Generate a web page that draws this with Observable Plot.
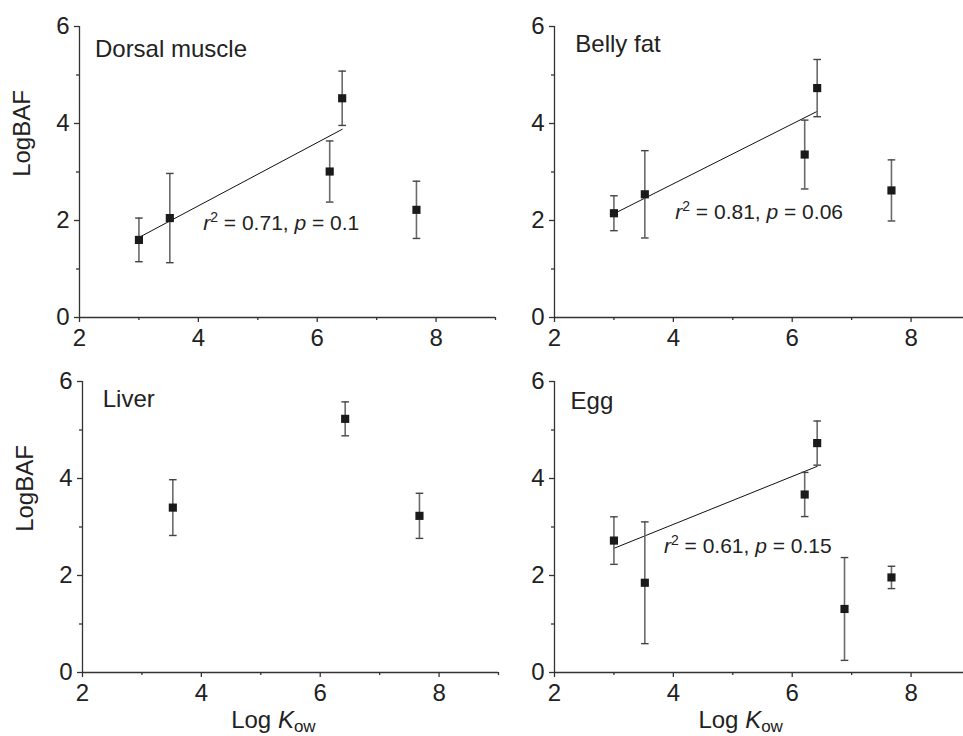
<!DOCTYPE html>
<html><head><meta charset="utf-8">
<script src="https://cdn.jsdelivr.net/npm/d3@7"></script>
<script src="https://cdn.jsdelivr.net/npm/@observablehq/plot@0.6"></script>
<style>
html,body{margin:0;padding:0;background:#fff;overflow:hidden;}
#fig{position:relative;width:963px;height:736px;overflow:hidden;font-family:"Liberation Sans",Arial,sans-serif;}
#fig > div{position:absolute;}
</style></head><body><div id="fig"></div>
<script>
// ---- data ----
const logKow = [3.0, 3.52, 6.21, 6.42, 6.88, 7.67];
const tissues = ["Dorsal muscle", "Belly fat", "Liver", "Egg"];
const dorsalMean = [1.60, 2.05, 3.01, 4.52, null, 2.22];
const dorsalErr  = [0.45, 0.92, 0.63, 0.56, null, 0.59];
const bellyMean  = [2.15, 2.54, 3.36, 4.73, null, 2.62];
const bellyErr   = [0.36, 0.90, 0.71, 0.59, null, 0.63];
const liverMean  = [null, 3.40, null, 5.23, null, 3.23];
const liverErr   = [null, 0.575, null, 0.35, null, 0.465];
const eggMean    = [2.72, 1.85, 3.67, 4.73, 1.31, 1.96];
const eggErr     = [0.49, 1.255, 0.455, 0.455, 1.06, 0.23];
const fitX       = [3.0, 6.42];
const dorsalFit  = [1.65, 3.88];
const bellyFit   = [2.14, 4.25];
const liverFit   = null;
const eggFit     = [2.56, 4.25];
const r2Values   = ["0.71", "0.81", null, "0.61"];
const pValues    = ["0.1", "0.06", null, "0.15"];
const xMajor = [2, 4, 6, 8];
const xMinor = [3, 5, 7, 9];
const yMajor = [0, 2, 4, 6];
const yMinor = [1, 3, 5];

const means = [dorsalMean, bellyMean, liverMean, eggMean];
const errs  = [dorsalErr, bellyErr, liverErr, eggErr];
const fits  = [dorsalFit, bellyFit, liverFit, eggFit];

// ---- layout (styles / positions) ----
const FONT = '"Liberation Sans", Arial, sans-serif';
const layout = [
  {left: 0,   top: 0,   ml: 79, mt: 26, h: 360, label: [2.26, 5.38], stat: [4.09, 1.79], yTitle: true,  xTitle: null},
  {left: 480, top: 0,   ml: 74, mt: 26, h: 360, label: [2.35, 5.48], stat: [4.04, 2.02], yTitle: false, xTitle: null},
  {left: 0,   top: 360, ml: 82, mt: 21, h: 376, label: [2.34, 5.48], stat: null,         yTitle: true,  xTitle: 4.51},
  {left: 480, top: 360, ml: 74, mt: 21, h: 376, label: [2.27, 5.44], stat: [3.85, 2.45], yTitle: false, xTitle: 4.43}
];
const PW = 416, PH = 291, MR = 6;

const cap = {draw(ctx, size) { const w = Math.sqrt(size / Math.PI); ctx.moveTo(-w, 0); ctx.lineTo(w, 0); }};

const fig = document.getElementById("fig");

tissues.forEach((name, k) => {
  const L = layout[k];
  const rows = [];
  means[k].forEach((m, i) => {
    if (m != null) rows.push({x: logKow[i], y: m, lo: m - errs[k][i], hi: m + errs[k][i]});
  });
  const fitRows = fits[k] ? fitX.map((x, i) => ({x, y: fits[k][i]})) : [];
  const width = L.ml + PW + MR;
  const marks = [
    Plot.ruleX([2], {stroke: "#333", strokeWidth: 1.3}),
    Plot.ruleY([0], {stroke: "#333", strokeWidth: 1.3}),
    Plot.axisX(xMajor, {tickSize: 5, tickPadding: 6, fontSize: 24, label: null, stroke: "#333", strokeWidth: 1.3, fill: "#222"}),
    Plot.axisX(xMinor, {tickSize: 3, text: null, label: null, stroke: "#333", strokeWidth: 1.3}),
    Plot.axisY(yMajor, {tickSize: 5, tickPadding: 5, fontSize: 24, label: null, stroke: "#333", strokeWidth: 1.3, fill: "#222"}),
    Plot.axisY(yMinor, {tickSize: 3, text: null, label: null, stroke: "#333", strokeWidth: 1.3}),
    Plot.line(fitRows, {x: "x", y: "y", stroke: "#111", strokeWidth: 1}),
    Plot.ruleX(rows, {x: "x", y1: "lo", y2: "hi", stroke: "#6a6a6a", strokeWidth: 1.6}),
    Plot.dot(rows, {x: "x", y: "hi", symbol: cap, r: 3.8, stroke: "#444", strokeWidth: 1.4, fill: "none"}),
    Plot.dot(rows, {x: "x", y: "lo", symbol: cap, r: 3.8, stroke: "#444", strokeWidth: 1.4, fill: "none"}),
    Plot.dot(rows, {x: "x", y: "y", symbol: "square", r: 4.6, fill: "#1a1a1a", stroke: "none"}),
    Plot.text([name], {x: () => L.label[0], y: () => L.label[1], textAnchor: "start", lineAnchor: "bottom", fontSize: 24, fill: "#222"})
  ];
  if (L.yTitle) {
    marks.push(Plot.text(["LogBAF"], {frameAnchor: "left", y: () => 2.9, dx: -57, rotate: -90, fontSize: 24, fill: "#222"}));
  }
  const plot = Plot.plot({
    width, height: L.h,
    marginLeft: L.ml, marginRight: MR, marginTop: L.mt, marginBottom: L.h - L.mt - PH,
    style: {background: "transparent", overflow: "visible", fontFamily: FONT, fontSize: "24px", color: "#222"},
    x: {domain: [2, 9]},
    y: {domain: [0, 6]},
    marks
  });
  const sx = plot.scale("x"), sy = plot.scale("y");
  const svg = d3.select(plot);
  if (L.stat && r2Values[k]) {
    const t = svg.append("text")
      .attr("x", sx.apply(L.stat[0])).attr("y", sy.apply(L.stat[1]))
      .attr("text-anchor", "start")
      .attr("font-size", 21).attr("fill", "#222").attr("font-family", FONT)
      .style("white-space", "pre");
    t.append("tspan").attr("font-style", "italic").text("r");
    t.append("tspan").attr("font-size", 14).attr("dy", -8).text("2");
    t.append("tspan").attr("dy", 8).text(" = " + r2Values[k] + ", ");
    t.append("tspan").attr("font-style", "italic").text("p");
    t.append("tspan").text(" = " + pValues[k]);
  }
  if (L.xTitle != null) {
    const t = svg.append("text")
      .attr("x", sx.apply(L.xTitle)).attr("y", sy.apply(0) + 56)
      .attr("text-anchor", "start")
      .attr("font-size", 24).attr("fill", "#222").attr("font-family", FONT)
      .style("white-space", "pre");
    t.append("tspan").text("Log ");
    t.append("tspan").attr("font-style", "italic").text("K");
    t.append("tspan").attr("font-size", 17).attr("dy", 4).text("ow");
  }
  const holder = document.createElement("div");
  holder.style.left = L.left + "px";
  holder.style.top = L.top + "px";
  holder.style.width = width + "px";
  holder.appendChild(plot);
  fig.appendChild(holder);
});
</script>
</body></html>
